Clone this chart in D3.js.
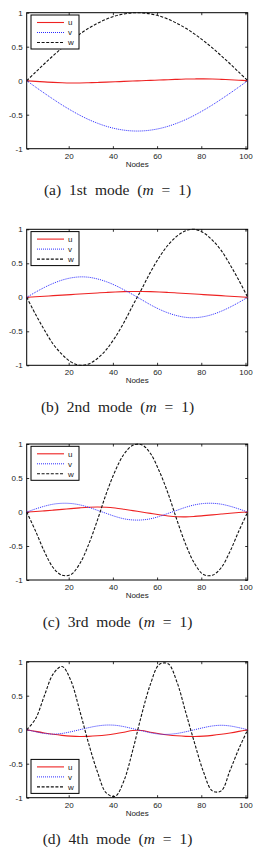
<!DOCTYPE html>
<html><head><meta charset="utf-8">
<script src="https://cdn.jsdelivr.net/npm/d3@7"></script>
<style>body{margin:0;background:#fff}svg{display:block}</style>
</head><body>
<script>
const nodes = [1,5,9,13,17,21,25,29,33,37,41,45,49,53,57,61,65,69,73,77,81,85,89,93,97,101];
const xTicks = [20,40,60,80,100];
const yTicks = [-1,-0.5,0,0.5,1];
const yTickLabels = ["-1","-0.5","0","0.5","1"];
const seriesNames = ["u","v","w"];
const captions = [["(a)","1st"],["(b)","2nd"],["(c)","3rd"],["(d)","4th"]];

const uA = [0,-0.01,-0.018,-0.025,-0.03,-0.033,-0.033,-0.03,-0.026,-0.021,-0.016,-0.01,-0.005,0,0.005,0.01,0.015,0.02,0.024,0.026,0.027,0.025,0.02,0.014,0.007,0];
const vA = [0,-0.093,-0.184,-0.272,-0.357,-0.435,-0.507,-0.571,-0.625,-0.67,-0.704,-0.727,-0.739,-0.739,-0.727,-0.704,-0.67,-0.625,-0.571,-0.507,-0.435,-0.357,-0.272,-0.184,-0.093,0];
const wA = [0,0.125,0.249,0.368,0.482,0.588,0.685,0.771,0.844,0.905,0.951,0.982,0.998,0.998,0.982,0.951,0.905,0.844,0.771,0.685,0.588,0.482,0.368,0.249,0.125,0];

const uB = [0,0.008,0.016,0.024,0.032,0.04,0.048,0.056,0.064,0.071,0.078,0.083,0.086,0.086,0.083,0.078,0.071,0.064,0.056,0.048,0.04,0.032,0.024,0.016,0.008,0];
const vB = [0,0.075,0.145,0.205,0.253,0.285,0.3,0.295,0.27,0.23,0.176,0.11,0.04,-0.035,-0.11,-0.176,-0.23,-0.27,-0.295,-0.3,-0.285,-0.253,-0.205,-0.145,-0.075,0];
const wB = [0,-0.25,-0.48,-0.69,-0.84,-0.95,-1.0,-0.98,-0.9,-0.77,-0.59,-0.37,-0.12,0.12,0.37,0.59,0.77,0.9,0.98,1.0,0.95,0.84,0.69,0.48,0.25,0];

const uC = [0,0.008,0.017,0.027,0.038,0.05,0.061,0.07,0.074,0.07,0.058,0.04,0.02,0,-0.02,-0.04,-0.058,-0.07,-0.072,-0.065,-0.054,-0.042,-0.03,-0.018,-0.008,0];
const vC = [0,0.045,0.085,0.115,0.128,0.125,0.105,0.07,0.025,-0.02,-0.065,-0.1,-0.117,-0.117,-0.1,-0.065,-0.02,0.025,0.07,0.105,0.125,0.128,0.115,0.085,0.045,0];
const wC = [0,-0.28,-0.58,-0.82,-0.93,-0.92,-0.76,-0.48,-0.12,0.27,0.6,0.85,0.98,0.99,0.86,0.6,0.27,-0.12,-0.48,-0.76,-0.92,-0.93,-0.82,-0.58,-0.28,0];

const uD = [0,-0.025,-0.048,-0.068,-0.084,-0.095,-0.1,-0.098,-0.09,-0.077,-0.059,-0.037,-0.012,-0.012,-0.037,-0.059,-0.077,-0.09,-0.098,-0.1,-0.095,-0.084,-0.068,-0.048,-0.025,0];
const vD = [0,-0.03,-0.055,-0.065,-0.055,-0.03,0.0,0.03,0.055,0.068,0.065,0.045,0.015,-0.015,-0.045,-0.065,-0.068,-0.055,-0.03,0.0,0.03,0.055,0.065,0.055,0.03,0];
const wD = [0,0.16,0.5,0.82,0.93,0.72,0.28,-0.2,-0.62,-0.93,-0.98,-0.75,-0.3,0.22,0.67,0.96,0.97,0.7,0.25,-0.2,-0.62,-0.9,-0.9,-0.6,-0.28,0];

const panels = [
  {u:uA, v:vA, w:wA, top:12.7, legend:"top"},
  {u:uB, v:vB, w:wB, top:229.3, legend:"top"},
  {u:uC, v:vC, w:wC, top:444, legend:"top"},
  {u:uD, v:vD, w:wD, top:661.7, legend:"bottom"}
];

const W = 255, H = 847;
const left = 26.7, right = 247.7, ph = 136;
const styles = {
  u:{color:"#ee2222", dash:null, width:1.1},
  v:{color:"#2a2aff", dash:"1,1", width:1},
  w:{color:"#111", dash:"3,1.6", width:1.1}
};
const sansFont = "Liberation Sans, Arial, sans-serif";

const svg = d3.select("body").append("svg").attr("width", W).attr("height", H);
const x = d3.scaleLinear().domain([1,101]).range([left,right]);

panels.forEach((p, i) => {
  const y = d3.scaleLinear().domain([-1,1]).range([p.top + ph, p.top]);
  const g = svg.append("g");
  const bottom = p.top + ph;

  const ax = d3.axisBottom(x).tickValues(xTicks).tickSize(-2.5).tickPadding(4.5).tickFormat(d3.format("d"));
  const gx = g.append("g").attr("transform", `translate(0,${bottom})`).call(ax);
  const ay = d3.axisLeft(y).tickValues(yTicks).tickSize(-2.5).tickPadding(4).tickFormat((d,k)=>yTickLabels[k]);
  const gy = g.append("g").attr("transform", `translate(${left},0)`).call(ay);
  const axT = d3.axisTop(x).tickValues(xTicks).tickSize(-2.5).tickFormat("");
  const gxt = g.append("g").attr("transform", `translate(0,${p.top})`).call(axT);
  const ayR = d3.axisRight(y).tickValues(yTicks).tickSize(-2.5).tickFormat("");
  const gyr = g.append("g").attr("transform", `translate(${right},0)`).call(ayR);
  [gx,gy,gxt,gyr].forEach(a => {
    a.select(".domain").remove();
    a.selectAll("line").attr("stroke","#000").attr("stroke-width",0.8);
    a.selectAll("text").attr("font-family",sansFont).attr("font-size","8px").attr("fill","#222");
  });
  g.append("rect").attr("x",left).attr("y",p.top).attr("width",right-left).attr("height",ph)
    .attr("fill","none").attr("stroke","#000").attr("stroke-width",1);

  seriesNames.forEach(s => {
    const line = d3.line().x((d,k)=>x(nodes[k])).y(d=>y(d)).curve(d3.curveCatmullRom.alpha(0.5));
    g.append("path").datum(p[s]).attr("d", line).attr("fill","none")
      .attr("stroke", styles[s].color).attr("stroke-width", styles[s].width)
      .attr("stroke-dasharray", styles[s].dash);
  });

  const lx = 31, lw = 48, lh = 34;
  const ly = p.legend === "top" ? p.top + 2.3 : bottom - lh - 4.3;
  const lg = g.append("g");
  lg.append("rect").attr("x",lx).attr("y",ly).attr("width",lw).attr("height",lh)
    .attr("fill","#fff").attr("stroke","#000").attr("stroke-width",1);
  seriesNames.forEach((s,k) => {
    const yy = ly + 7.5 + k*10;
    lg.append("line").attr("x1",lx+6).attr("x2",lx+33).attr("y1",yy).attr("y2",yy)
      .attr("stroke",styles[s].color).attr("stroke-width",styles[s].width).attr("stroke-dasharray",styles[s].dash);
    lg.append("text").attr("x",lx+37).attr("y",yy+2.8).text(s)
      .attr("font-family",sansFont).attr("font-size","8px").attr("fill","#222");
  });

  g.append("text").attr("x",(left+right)/2).attr("y",bottom+18).attr("text-anchor","middle")
    .attr("font-family",sansFont).attr("font-size","8px").attr("fill","#222").text("Nodes");

  const cy = bottom + 46.5;
  const ct = g.append("text").attr("x",117.5).attr("y",cy).attr("text-anchor","middle")
    .attr("font-family","Liberation Serif, Times New Roman, serif").attr("font-size","15.5px")
    .attr("word-spacing","4px").attr("fill","#222");
  ct.append("tspan").text(captions[i][0] + " " + captions[i][1] + " mode (");
  ct.append("tspan").attr("font-style","italic").text("m");
  ct.append("tspan").text(" = 1)");
});
</script>
</body></html>
